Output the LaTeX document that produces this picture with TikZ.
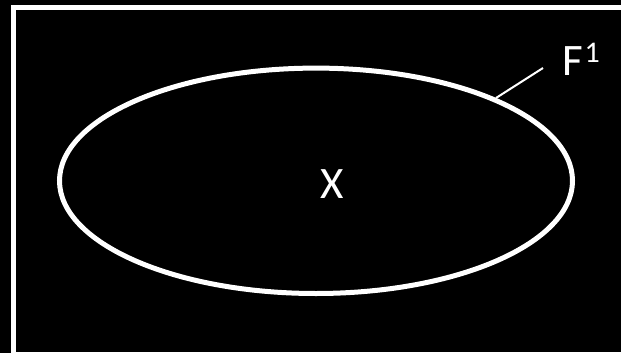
\documentclass[tikz,border=0pt]{standalone}
\usepackage{fontspec}
\setmainfont{Carlito}
\begin{document}
\begin{tikzpicture}[x=1pt,y=-1pt,
  wline/.style={white,line width=5pt},
  lbl/.style={text=white,inner sep=0pt,outer sep=0pt}]
\fill[black] (0,0) rectangle (621,353);
\useasboundingbox (0,0) rectangle (621,353);
\clip (0,0) rectangle (621,353);
\draw[wline] (13.5,7.5) rectangle (640,354.5);
\draw[wline] (316,180.8) ellipse [x radius=256.5, y radius=112.7];
\node[lbl,anchor=base,font=\fontsize{45}{50}\selectfont] (x) at (332,198) {X};
\node[lbl,anchor=base west,font=\fontsize{45}{50}\selectfont] (f) at (562,76) {F};
\node[lbl,anchor=base west,font=\fontsize{30}{34}\selectfont] (one) at (f.base east) [yshift=13pt,xshift=2pt] {1};
\coordinate (p) at (496,98);
\coordinate (q) at (543,68);
\draw[white,line width=2pt] (p) -- (q);
\end{tikzpicture}
\end{document}
